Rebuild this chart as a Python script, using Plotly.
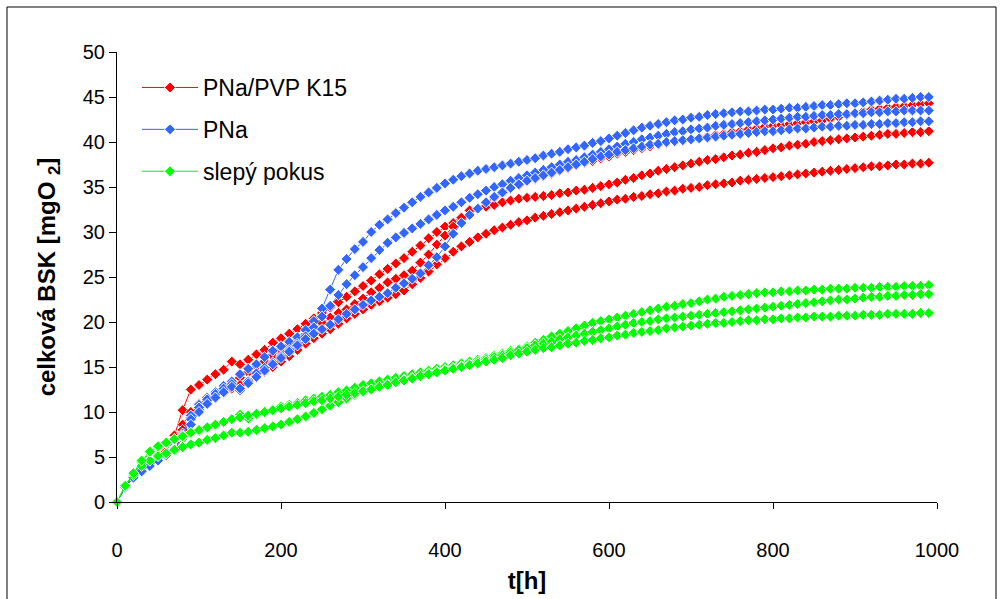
import plotly.graph_objects as go

# Sampling times [h]
t_h = [0, 10, 20, 30, 40, 50, 60, 70, 80, 90,
       100, 110, 120, 130, 140, 150, 160, 170, 180, 190,
       200, 210, 220, 230, 240, 250, 260, 270, 280, 290,
       300, 310, 320, 330, 340, 350, 360, 370, 380, 390,
       400, 410, 420, 430, 440, 450, 460, 470, 480, 490,
       500, 510, 520, 530, 540, 550, 560, 570, 580, 590,
       600, 610, 620, 630, 640, 650, 660, 670, 680, 690,
       700, 710, 720, 730, 740, 750, 760, 770, 780, 790,
       800, 810, 820, 830, 840, 850, 860, 870, 880, 890,
       900, 910, 920, 930, 940, 950, 960, 970, 980, 990]

# PNa/PVP K15 - three replicates
pvp_1 = [0.0, 1.7, 2.9, 3.8, 4.5, 5.2, 6.0, 7.4, 10.2, 12.5,
         13.0, 13.6, 14.2, 14.7, 15.6, 15.3, 15.8, 16.4, 16.9, 17.7,
         18.2, 18.7, 19.2, 19.8, 20.4, 21.0, 21.6, 22.2, 22.8, 23.4,
         24.0, 24.6, 25.3, 25.9, 26.5, 27.1, 27.8, 28.5, 29.3, 30.0,
         30.6, 31.0, 31.4, 32.0, 32.6, 33.2, 33.8, 34.3, 34.8, 35.2,
         35.6, 35.9, 36.2, 36.5, 36.8, 37.1, 37.4, 37.7, 37.9, 38.2,
         38.4, 38.7, 38.9, 39.1, 39.3, 39.5, 39.7, 39.9, 40.0, 40.2,
         40.3, 40.5, 40.6, 40.8, 40.9, 41.1, 41.2, 41.4, 41.5, 41.7,
         41.8, 41.9, 42.0, 42.1, 42.2, 42.3, 42.4, 42.6, 42.8, 43.0,
         43.2, 43.4, 43.6, 43.7, 43.8, 43.9, 44.0, 44.1, 44.2, 44.3]
pvp_2 = [0.0, 1.7, 2.9, 3.7, 4.4, 5.1, 5.8, 7.0, 8.6, 10.0,
         10.9, 11.6, 12.2, 12.8, 13.3, 13.8, 14.4, 15.0, 15.6, 16.2,
         16.8, 17.4, 18.0, 18.6, 19.3, 19.9, 20.5, 21.0, 21.4, 22.0,
         22.6, 23.3, 23.8, 24.4, 24.8, 25.2, 25.7, 26.6, 27.5, 28.6,
         29.6, 30.6, 31.6, 32.4, 32.6, 32.8, 33.0, 33.3, 33.5, 33.7,
         33.8, 33.9, 34.0, 34.1, 34.3, 34.4, 34.6, 34.7, 34.9, 35.1,
         35.3, 35.5, 35.8, 36.0, 36.3, 36.5, 36.8, 37.0, 37.2, 37.4,
         37.6, 37.8, 38.0, 38.1, 38.3, 38.5, 38.6, 38.8, 38.9, 39.1,
         39.3, 39.4, 39.6, 39.7, 39.8, 40.0, 40.1, 40.2, 40.3, 40.4,
         40.5, 40.6, 40.7, 40.8, 40.9, 40.9, 41.0, 41.1, 41.1, 41.2]
pvp_3 = [0.0, 1.7, 2.9, 3.7, 4.3, 5.0, 5.6, 6.6, 8.0, 9.4,
         10.3, 11.0, 11.6, 12.1, 12.6, 13.0, 13.5, 14.0, 14.5, 15.0,
         15.6, 16.2, 16.9, 17.6, 18.2, 18.7, 19.2, 19.8, 20.4, 20.9,
         21.4, 21.9, 22.3, 22.7, 23.1, 23.5, 24.2, 24.9, 25.6, 26.4,
         27.1, 27.8, 28.4, 28.9, 29.4, 29.8, 30.2, 30.5, 30.8, 31.1,
         31.3, 31.6, 31.8, 32.0, 32.2, 32.4, 32.6, 32.8, 33.0, 33.2,
         33.4, 33.6, 33.7, 33.9, 34.0, 34.2, 34.3, 34.5, 34.6, 34.8,
         34.9, 35.0, 35.2, 35.3, 35.4, 35.5, 35.7, 35.8, 35.9, 36.0,
         36.1, 36.2, 36.3, 36.4, 36.5, 36.6, 36.7, 36.8, 36.9, 37.0,
         37.1, 37.2, 37.3, 37.3, 37.4, 37.5, 37.5, 37.6, 37.6, 37.7]

# PNa - three replicates
pna_1 = [0.0, 1.6, 2.8, 3.6, 4.2, 4.8, 5.4, 6.2, 7.6, 9.6,
         10.8, 11.6, 12.2, 12.9, 13.4, 14.2, 14.8, 15.3, 16.1, 16.8,
         17.3, 17.8, 18.3, 19.1, 20.1, 21.5, 23.6, 25.8, 27.0, 28.1,
         28.9, 30.0, 30.8, 31.4, 32.1, 32.7, 33.3, 33.9, 34.4, 34.9,
         35.4, 35.8, 36.2, 36.5, 36.8, 37.0, 37.2, 37.4, 37.6, 37.8,
         38.0, 38.2, 38.5, 38.7, 38.9, 39.2, 39.4, 39.6, 39.9, 40.1,
         40.4, 40.7, 41.0, 41.3, 41.6, 41.8, 42.0, 42.2, 42.4, 42.5,
         42.7, 42.8, 43.0, 43.1, 43.2, 43.3, 43.4, 43.4, 43.5, 43.6,
         43.6, 43.7, 43.8, 43.8, 43.9, 44.0, 44.1, 44.1, 44.2, 44.3,
         44.3, 44.4, 44.5, 44.6, 44.7, 44.8, 44.8, 44.9, 45.0, 45.0]
pna_2 = [0.0, 1.6, 2.8, 3.5, 4.1, 4.7, 5.3, 6.0, 7.4, 9.2,
         10.5, 11.4, 12.0, 12.6, 13.1, 12.4, 13.4, 14.3, 14.9, 15.5,
         16.2, 16.9, 17.6, 18.4, 19.4, 20.6, 21.8, 23.0, 24.2, 25.2,
         26.1, 27.1, 28.0, 28.8, 29.4, 29.9, 30.4, 30.9, 31.4, 31.9,
         32.4, 32.8, 33.3, 33.8, 34.2, 34.6, 35.0, 35.3, 35.7, 36.0,
         36.3, 36.6, 36.9, 37.2, 37.5, 37.8, 38.0, 38.3, 38.6, 38.9,
         39.2, 39.5, 39.8, 40.0, 40.3, 40.5, 40.7, 40.9, 41.1, 41.2,
         41.4, 41.5, 41.6, 41.8, 41.9, 42.0, 42.1, 42.2, 42.3, 42.4,
         42.5, 42.6, 42.7, 42.8, 42.8, 42.9, 43.0, 43.0, 43.1, 43.1,
         43.2, 43.2, 43.3, 43.3, 43.4, 43.4, 43.5, 43.5, 43.5, 43.5]
pna_3 = [0.0, 1.6, 2.7, 3.4, 4.0, 4.6, 5.2, 5.9, 7.0, 8.6,
         10.0, 10.9, 11.6, 12.2, 12.8, 12.6, 13.2, 13.9, 14.6, 15.3,
         16.0, 16.7, 17.4, 18.1, 18.7, 19.2, 19.7, 20.3, 20.9, 21.4,
         21.9, 22.4, 22.8, 23.2, 23.8, 24.3, 24.8, 25.4, 26.3, 27.2,
         28.4, 29.8, 31.0, 31.9, 32.6, 33.3, 33.9, 34.4, 34.9, 35.3,
         35.7, 36.0, 36.3, 36.6, 36.9, 37.2, 37.5, 37.8, 38.1, 38.4,
         38.6, 38.9, 39.1, 39.3, 39.5, 39.7, 39.8, 40.0, 40.1, 40.2,
         40.3, 40.4, 40.5, 40.6, 40.7, 40.8, 40.9, 41.0, 41.1, 41.2,
         41.2, 41.3, 41.4, 41.5, 41.5, 41.6, 41.7, 41.7, 41.8, 41.8,
         41.9, 41.9, 42.0, 42.0, 42.1, 42.1, 42.2, 42.2, 42.3, 42.3]

# slepý pokus (blank) - three replicates
blank_1 = [0.0, 1.8, 3.1, 4.4, 5.5, 6.1, 6.5, 6.9, 7.2, 7.6,
           7.9, 8.2, 8.5, 8.8, 9.2, 9.7, 9.3, 9.7, 10.0, 10.3,
           10.6, 10.8, 11.0, 11.3, 11.5, 11.7, 11.9, 12.2, 12.4, 12.7,
           13.0, 13.2, 13.4, 13.6, 13.8, 14.0, 14.2, 14.4, 14.6, 14.8,
           15.0, 15.2, 15.4, 15.6, 15.8, 16.0, 16.3, 16.5, 16.8, 17.0,
           17.3, 17.7, 18.0, 18.4, 18.7, 19.0, 19.3, 19.6, 19.9, 20.1,
           20.3, 20.5, 20.7, 20.9, 21.1, 21.3, 21.5, 21.7, 21.8, 22.0,
           22.1, 22.3, 22.5, 22.6, 22.8, 22.9, 23.0, 23.1, 23.2, 23.3,
           23.3, 23.4, 23.4, 23.5, 23.5, 23.6, 23.6, 23.7, 23.7, 23.7,
           23.8, 23.8, 23.8, 23.9, 23.9, 23.9, 24.0, 24.0, 24.0, 24.1]
blank_2 = [0.0, 1.8, 3.0, 4.0, 4.6, 5.1, 5.4, 5.8, 6.1, 6.4,
           6.6, 6.9, 7.1, 7.4, 7.7, 7.7, 7.8, 8.0, 8.2, 8.4,
           8.6, 8.9, 9.2, 9.5, 9.9, 10.3, 10.7, 11.1, 11.5, 11.9,
           12.2, 12.5, 12.8, 13.1, 13.3, 13.6, 13.8, 14.0, 14.3, 14.5,
           14.7, 14.9, 15.1, 15.3, 15.6, 15.8, 16.1, 16.3, 16.6, 16.9,
           17.1, 17.4, 17.6, 17.8, 18.1, 18.3, 18.5, 18.7, 18.9, 19.1,
           19.3, 19.5, 19.7, 19.9, 20.0, 20.1, 20.3, 20.4, 20.5, 20.6,
           20.7, 20.8, 20.9, 21.0, 21.1, 21.2, 21.3, 21.4, 21.5, 21.6,
           21.7, 21.8, 21.9, 22.0, 22.1, 22.2, 22.3, 22.4, 22.5, 22.5,
           22.6, 22.7, 22.8, 22.8, 22.9, 22.9, 23.0, 23.0, 23.1, 23.1]
blank_3 = [0.0, 1.8, 3.2, 4.6, 5.6, 6.2, 6.6, 7.0, 7.3, 7.7,
           8.0, 8.3, 8.6, 8.9, 9.2, 9.4, 9.6, 9.8, 10.0, 10.2,
           10.4, 10.6, 10.8, 11.0, 11.2, 11.3, 11.5, 11.7, 11.9, 12.1,
           12.3, 12.5, 12.8, 13.0, 13.3, 13.5, 13.7, 14.0, 14.2, 14.4,
           14.6, 14.8, 15.0, 15.2, 15.4, 15.6, 15.8, 16.0, 16.3, 16.5,
           16.7, 16.9, 17.1, 17.2, 17.4, 17.6, 17.7, 17.9, 18.0, 18.2,
           18.3, 18.5, 18.6, 18.8, 18.9, 19.0, 19.1, 19.3, 19.4, 19.5,
           19.6, 19.7, 19.8, 19.9, 19.9, 20.0, 20.1, 20.2, 20.2, 20.3,
           20.3, 20.4, 20.4, 20.5, 20.5, 20.6, 20.6, 20.6, 20.7, 20.7,
           20.7, 20.8, 20.8, 20.8, 20.9, 20.9, 20.9, 20.9, 21.0, 21.0]

groups = [
    ("PNa/PVP K15", "#FF0000", [pvp_1, pvp_2, pvp_3]),
    ("PNa", "#3366FF", [pna_1, pna_2, pna_3]),
    ("slepý pokus", "#00FF00", [blank_1, blank_2, blank_3]),
]

FONT = "Liberation Sans, Arial, sans-serif"

fig = go.Figure()
for name, color, series in groups:
    for i, ys in enumerate(series):
        fig.add_trace(go.Scatter(
            x=t_h, y=ys, mode="lines+markers", name=name,
            legendgroup=name, showlegend=(i == 0),
            line=dict(color=color, width=1),
            marker=dict(symbol="diamond", size=8.5, color=color,
                        line=dict(color="white", width=1)),
            cliponaxis=False,
        ))

L, R, T, B = 117, 65, 52, 97
W, H = 1002, 599
pw, ph = W - L - R, H - T - B


def px_x(p):
    return (p - L) / pw


def px_y(p):
    return (H - B - p) / ph


fig.update_layout(
    width=W, height=H,
    margin=dict(l=L, r=R, t=T, b=B, autoexpand=False),
    paper_bgcolor="white", plot_bgcolor="white",
    font=dict(family=FONT, color="black"),
    showlegend=True,
    legend=dict(
        x=px_x(137), y=px_y(66), xanchor="left", yanchor="top",
        bgcolor="rgba(0,0,0,0)", borderwidth=0,
        font=dict(size=23, family=FONT),
        traceorder="grouped", tracegroupgap=9, itemwidth=56,
    ),
    xaxis=dict(
        range=[0, 1000], tickvals=[0, 200, 400, 600, 800, 1000],
        showgrid=False, zeroline=False, automargin=False,
        showline=True, linecolor="black", linewidth=1,
        ticks="outside", ticklen=6, tickcolor="black",
        tickfont=dict(size=20, family=FONT), ticklabelstandoff=24,
        title=dict(text="<b>t[h]</b>", font=dict(size=24, family=FONT), standoff=12),
    ),
    yaxis=dict(
        range=[0, 50], tickvals=list(range(0, 55, 5)),
        showgrid=False, zeroline=False, automargin=False,
        showline=True, linecolor="black", linewidth=1,
        ticks="outside", ticklen=7, tickcolor="black",
        tickfont=dict(size=20, family=FONT),
        title=dict(text="<b>celková BSK [mgO <sub>2</sub>]</b>",
                   font=dict(size=24, family=FONT), standoff=20),
    ),
    shapes=[dict(
        type="rect", xref="paper", yref="paper",
        x0=px_x(7), x1=px_x(996), y0=px_y(604), y1=px_y(7),
        line=dict(color="black", width=1), fillcolor="rgba(0,0,0,0)",
        layer="below",
    )],
)

fig.write_html("out.html")
